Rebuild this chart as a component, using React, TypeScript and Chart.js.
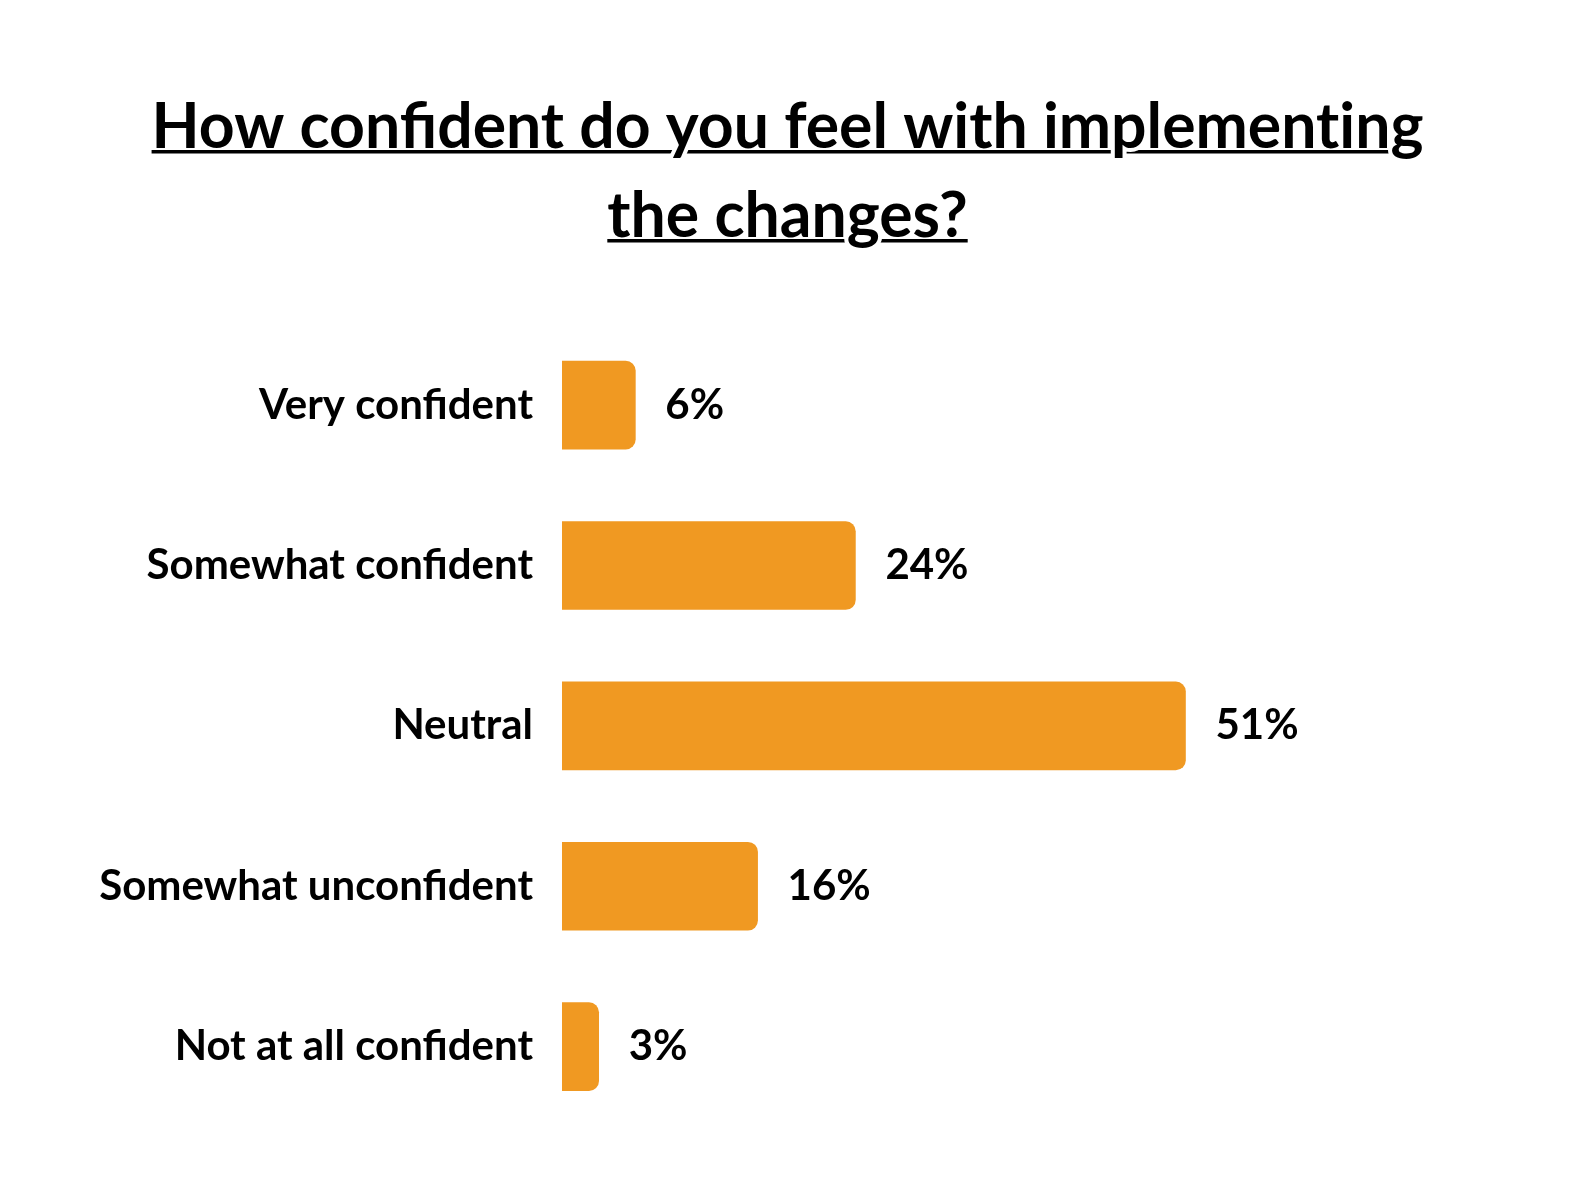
import { useEffect, useRef } from "react";
import { Chart, registerables } from "chart.js";

Chart.register(...registerables);

const categories = [
  "Very confident",
  "Somewhat confident",
  "Neutral",
  "Somewhat unconfident",
  "Not at all confident",
];
const values = [6, 24, 51, 16, 3];
const valueLabels = ["6%", "24%", "51%", "16%", "3%"];
const titleLines = ["How confident do you feel with implementing", "the changes?"];
const xMax = 80;

const FONT = "Lato, 'Noto Sans', sans-serif";

// break the "ti" ligature only (keep "fi")
const noTi = (s: string) => s.replace(/ti/g, "t\u200Ci");

const titlePlugin = {
  id: "ulTitle",
  afterDraw(chart: any) {
    const ctx = chart.ctx as CanvasRenderingContext2D;
    ctx.save();
    ctx.font = `bold 62.5px ${FONT}`;
    ctx.fillStyle = "#000";
    ctx.textAlign = "left";
    ctx.textBaseline = "alphabetic";
    const cx = chart.width / 2;
    titleLines.forEach((raw, i) => {
      const line = noTi(raw);
      const y = 148 + i * 89;
      const w = ctx.measureText(line).width;
      const x0 = cx - w / 2;
      ctx.fillStyle = "#000";
      ctx.fillRect(x0, y + 2, w, 3.5);
      for (let k = 0; k < line.length; k++) {
        if ("gjpqy".includes(line[k])) {
          const px = x0 + ctx.measureText(line.slice(0, k)).width;
          ctx.save();
          ctx.beginPath();
          ctx.rect(x0 - 5, y + 1, w + 10, 7);
          ctx.clip();
          ctx.strokeStyle = "#fff";
          ctx.lineWidth = 8;
          ctx.lineJoin = "round";
          ctx.strokeText(line[k], px, y);
          ctx.restore();
        }
      }
      ctx.fillStyle = "#000";
      ctx.fillText(line, x0, y);
    });
    ctx.restore();
  },
};

const valuePlugin = {
  id: "valueLabels",
  afterDatasetsDraw(chart: any) {
    const ctx = chart.ctx as CanvasRenderingContext2D;
    const meta = chart.getDatasetMeta(0);
    ctx.save();
    ctx.font = `bold 42px ${FONT}`;
    ctx.fillStyle = "#000";
    ctx.textAlign = "left";
    ctx.textBaseline = "middle";
    meta.data.forEach((bar: any, i: number) => {
      ctx.fillText(valueLabels[i], bar.x + 30, bar.y);
    });
    ctx.restore();
  },
};

export default function App() {
  const ref = useRef<HTMLCanvasElement>(null);
  useEffect(() => {
    if (!ref.current) return;
    const chart = new Chart(ref.current, {
      type: "bar",
      data: {
        labels: categories,
        datasets: [
          {
            data: values,
            backgroundColor: "#F09922",
            borderWidth: 0,
            borderRadius: 10,
            borderSkipped: "start",
            barThickness: 88,
          },
        ],
      },
      options: {
        indexAxis: "y",
        responsive: false,
        animation: false,
        layout: { padding: { top: 325, bottom: 53, left: 0, right: 35 } },
        plugins: {
          legend: { display: false },
          title: { display: false },
          tooltip: { enabled: false },
        },
        scales: {
          x: { display: false, min: 0, max: xMax },
          y: {
            grid: { display: false, drawTicks: false },
            border: { display: false },
            ticks: {
              color: "#000",
              padding: 29,
              font: { family: FONT, size: 42, weight: "bold" },
            },
            afterFit(scale: any) {
              scale.width = 562;
            },
          },
        },
      },
      plugins: [titlePlugin, valuePlugin],
    });
    return () => chart.destroy();
  }, []);
  return (
    <canvas
      ref={ref}
      width={1575}
      height={1181}
      style={{ position: "fixed", left: 0, top: 0, display: "block", background: "#fff" }}
    />
  );
}
